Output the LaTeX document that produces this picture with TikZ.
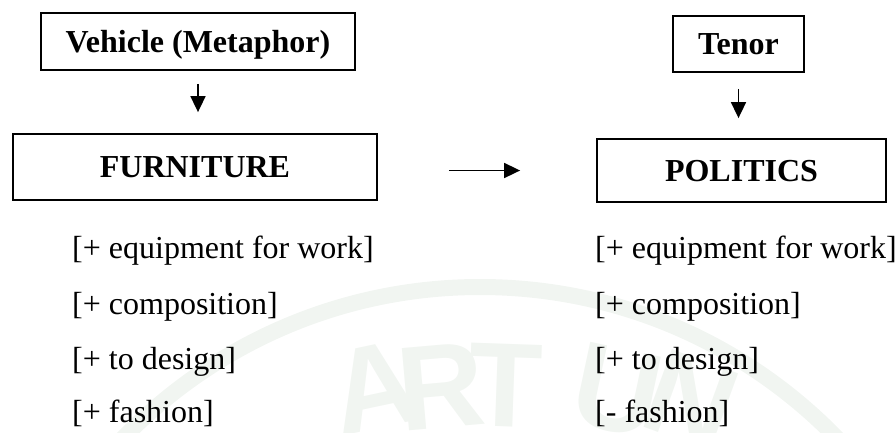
\documentclass[tikz,border=0pt]{standalone}
\usepackage{fontspec}
\setmainfont{Liberation Serif}
\newfontfamily\marksans{Liberation Sans}
\usetikzlibrary{arrows.meta}
\definecolor{wmark}{RGB}{241,245,241}

\begin{document}
\begin{tikzpicture}[x=1pt,y=-1pt,
  box/.style={draw=black, line width=1.8pt, inner sep=0pt,
    text height=21pt, text depth=0pt,
    font=\fontsize{32}{38}\selectfont\bfseries},
  item/.style={anchor=base west, inner sep=0pt,
    font=\fontsize{32}{38}\selectfont},
  link/.style={line width=1.7pt, -{Triangle[length=16pt,width=15pt]}},
  markletter/.style={anchor=north, inner sep=0pt, text=wmark,
    font=\fontsize{120}{120}\selectfont\marksans\bfseries},
]
\useasboundingbox (0,0) rectangle (896,432);

% faint seal in the background
\begin{scope}
  \clip (0,0) rectangle (896,432);
  \draw[wmark, line width=16pt] (480,784) circle[radius=497];
  \node[markletter, rotate=12]  (wa) at (366,347) {A};
  \node[markletter, rotate=5]   (wr) at (437,345) {R};
  \node[markletter, rotate=-2]  (wt) at (507,344) {T};
  \node[markletter, rotate=-12] (wu) at (626,350) {U};
  \node[markletter, rotate=-20] (wn) at (706,362) {N};
\end{scope}

% boxes
\node[box, minimum width=314pt, minimum height=57pt] (veh)   at (198,41.5)  {Vehicle (Metaphor)};
\node[box, minimum width=364pt, minimum height=66pt] (furn)  at (195,167)   {FURNITURE};
\node[box, minimum width=131pt, minimum height=56pt] (tenor) at (738.5,44)  {Tenor};
\node[box, minimum width=289pt, minimum height=63pt] (pol)   at (741.5,170.5) {POLITICS};

% arrows
\draw[link, shorten <=13pt, shorten >=21pt] (veh.south) -- (veh.south |- furn.north);
\draw[link, shorten <=16pt, shorten >=20pt] (tenor.south) -- (tenor.south |- pol.north);
\draw[link, shorten <=71pt, shorten >=76pt] (furn.east |- pol.west) -- (pol.west);

% feature lists
\node[item] (l1) at (72,258) {[+ equipment for work]};
\node[item] (l2) at (72,314) {[+ composition]};
\node[item] (l3) at (72,369) {[+ to design]};
\node[item] (l4) at (72,422) {[+ fashion]};

\node[item] (r1) at (595,258) {[+ equipment for work]};
\node[item] (r2) at (595,314) {[+ composition]};
\node[item] (r3) at (595,369) {[+ to design]};
\node[item] (r4) at (595,422) {[- fashion]};
\end{tikzpicture}
\end{document}
